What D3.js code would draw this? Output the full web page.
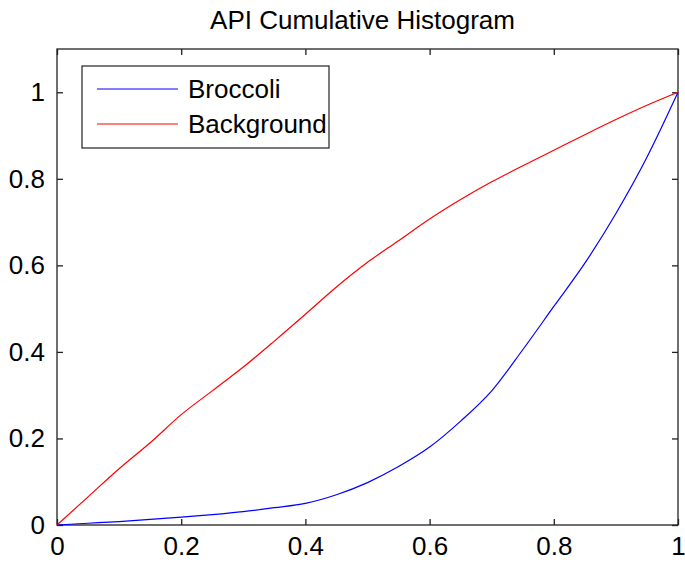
<!DOCTYPE html>
<html>
<head>
<meta charset="utf-8">
<script src="https://cdn.jsdelivr.net/npm/d3@7"></script>
<style>
  body { margin: 0; background: #fff; }
  text { font-family: "Liberation Sans", Arial, sans-serif; fill: #000; }
</style>
</head>
<body>
<div id="chart"></div>
<script>
// api thresholds (x) and cumulative fractions
var apiX = [0, 0.05, 0.1, 0.15, 0.2, 0.25, 0.3, 0.35, 0.4, 0.45, 0.5,
            0.55, 0.6, 0.65, 0.7, 0.75, 0.8, 0.85, 0.9, 0.95, 1];
var broccoli = [0, 0.004, 0.008, 0.013, 0.018, 0.024, 0.031, 0.04, 0.05, 0.07, 0.098,
                0.135, 0.18, 0.24, 0.31, 0.405, 0.505, 0.605, 0.72, 0.85, 1];
var background = [0, 0.065, 0.13, 0.19, 0.255, 0.31, 0.365, 0.425, 0.487, 0.55, 0.607,
                  0.657, 0.707, 0.752, 0.793, 0.83, 0.866, 0.902, 0.937, 0.97, 1];
var xTicks = [0, 0.2, 0.4, 0.6, 0.8, 1];
var yTicks = [0, 0.2, 0.4, 0.6, 0.8, 1];
var xTickLabels = ["0", "0.2", "0.4", "0.6", "0.8", "1"];
var yTickLabels = ["0", "0.2", "0.4", "0.6", "0.8", "1"];
var seriesNames = ["Broccoli", "Background"];
var seriesColors = ["#0000ff", "#ff0000"];

var W = 685, H = 565;
var margin = {top: 49, right: 7, bottom: 40, left: 57};
var width = W - margin.left - margin.right,
    height = H - margin.top - margin.bottom;

var svg = d3.select("#chart")
  .append("svg")
  .attr("width", W)
  .attr("height", H)
  .append("g")
  .attr("transform", "translate(" + margin.left + "," + margin.top + ")");

var x = d3.scaleLinear().domain([0, 1]).range([0, width]);
var y = d3.scaleLinear().domain([0, 1.1]).range([height, 0]);

// axes: labels on bottom/left, inward ticks on all four sides
var fs = 26;
var axBottom = svg.append("g")
  .attr("transform", "translate(0," + height + ")")
  .call(d3.axisBottom(x).tickValues(xTicks).tickSize(-6).tickPadding(12)
        .tickFormat(function(d, i) { return xTickLabels[i]; }));
var axLeft = svg.append("g")
  .call(d3.axisLeft(y).tickValues(yTicks).tickSize(-6).tickPadding(12)
        .tickFormat(function(d, i) { return yTickLabels[i]; }));
var axTop = svg.append("g")
  .call(d3.axisTop(x).tickValues(xTicks).tickSize(-6).tickFormat(""));
var axRight = svg.append("g")
  .attr("transform", "translate(" + width + ",0)")
  .call(d3.axisRight(y).tickValues(yTicks).tickSize(-6).tickFormat(""));

[axBottom, axLeft, axTop, axRight].forEach(function(g) {
  g.select(".domain").remove();
  g.selectAll("line").attr("stroke", "#222").attr("stroke-width", 1.3);
  g.selectAll("text").style("font-size", fs + "px")
    .style("font-family", "'Liberation Sans', Arial, sans-serif").attr("fill", "#000");
});

svg.append("rect")
  .attr("width", width)
  .attr("height", height)
  .attr("fill", "none")
  .attr("stroke", "#222")
  .attr("stroke-width", 1.3);

var line = d3.line()
  .curve(d3.curveMonotoneX)
  .x(function(d) { return x(d[0]); })
  .y(function(d) { return y(d[1]); });

[broccoli, background].forEach(function(vals, k) {
  svg.append("path")
    .datum(apiX.map(function(v, i) { return [v, vals[i]]; }))
    .attr("d", line)
    .attr("fill", "none")
    .attr("stroke", seriesColors[k])
    .attr("stroke-width", 1.2);
});

// title
svg.append("text")
  .attr("x", width / 2 - 5)
  .attr("y", -20)
  .attr("text-anchor", "middle")
  .style("font-size", fs + "px")
  .text("API Cumulative Histogram");

// legend
var leg = svg.append("g").attr("transform", "translate(25,17)");
leg.append("rect")
  .attr("width", 247)
  .attr("height", 82)
  .attr("fill", "#fff")
  .attr("stroke", "#222")
  .attr("stroke-width", 1.2);
seriesNames.forEach(function(name, k) {
  var yy = 23 + k * 35;
  leg.append("line")
    .attr("x1", 15).attr("x2", 96)
    .attr("y1", yy).attr("y2", yy)
    .attr("stroke", seriesColors[k])
    .attr("stroke-width", 1.2);
  leg.append("text")
    .attr("x", 106)
    .attr("y", yy + 9)
    .style("font-size", fs + "px")
    .text(name);
});
</script>
</body>
</html>
